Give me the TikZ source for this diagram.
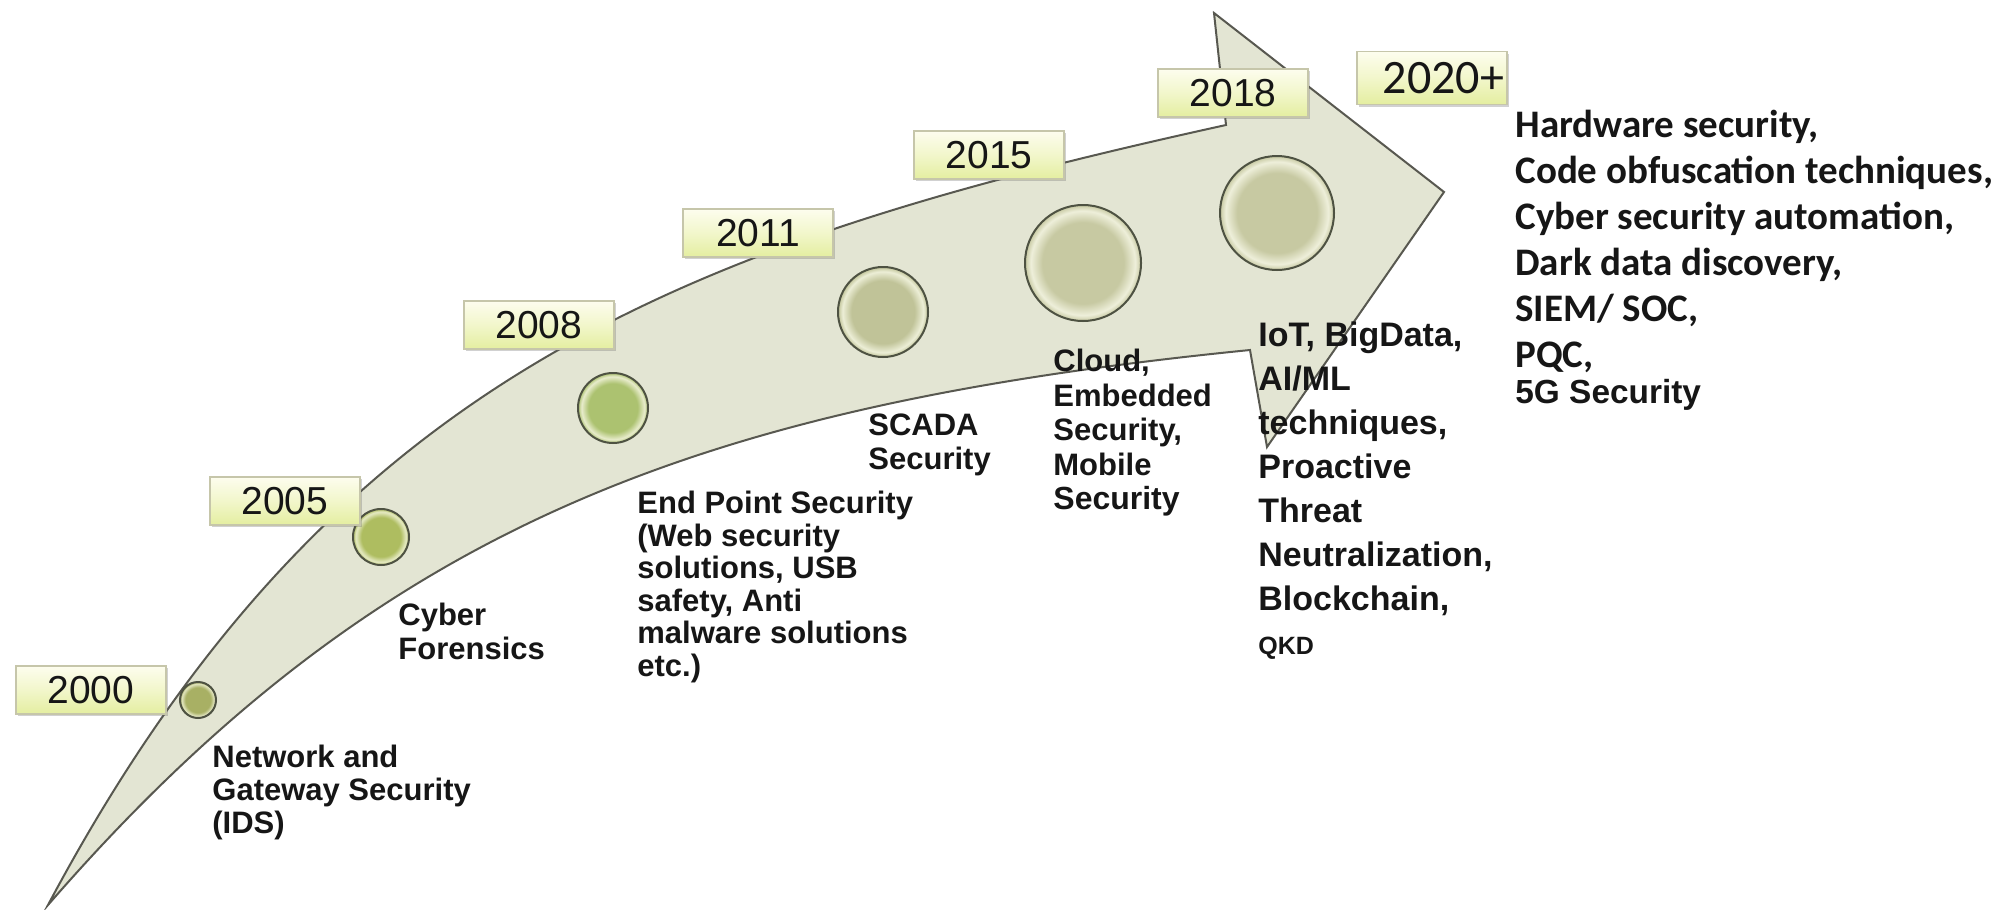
\documentclass[tikz,border=0pt]{standalone}
\usepackage{fontspec}
\setmainfont{Liberation Sans}
\newfontfamily\calibrifont{Carlito}
\usetikzlibrary{shadows}

\definecolor{arrowfill}{RGB}{227,229,211}
\definecolor{arrowline}{RGB}{88,88,80}
\definecolor{tagtop}{RGB}{253,253,238}
\definecolor{tagbot}{RGB}{228,238,160}
\definecolor{tagline}{RGB}{198,198,170}
\definecolor{bubline}{RGB}{78,82,66}
\definecolor{ink}{RGB}{22,22,22}
\definecolor{bubin}{RGB}{190,192,150}
\definecolor{bubring}{RGB}{236,238,214}

% bubble: flat fill with a pale ring just inside the rim
\pgfdeclareradialshading[bubin,bubring]{bubble}{\pgfpoint{0bp}{0bp}}{%
  color(0bp)=(bubin); color(17.5bp)=(bubin); color(22.5bp)=(bubring);
  color(25bp)=(bubin); color(50bp)=(bubin)}

\tikzset{
  arrowbody/.style={fill=arrowfill, draw=arrowline, line width=1pt, line join=miter},
  yeartag/.style={draw=tagline, line width=0.6pt,
    top color=tagtop, bottom color=tagbot, middle color=tagtop!55!tagbot,
    minimum width=75pt, minimum height=24pt, inner sep=0pt,
    font=\fontsize{19.5}{20}\selectfont, text=ink,
    drop shadow={shadow xshift=0.8pt, shadow yshift=-1.2pt, opacity=0.3, fill=black!60}},
  bubble/.style={circle, draw=bubline, line width=1pt, shading=bubble,
    minimum size=#1, inner sep=0pt},
  lab/.style={align=left, anchor=north west, inner sep=0pt, text=ink,
    font=\bfseries\fontsize{15.5}{17}\selectfont},
}

\begin{document}
\begin{tikzpicture}[x=0.5pt,y=-0.5pt]
\useasboundingbox (0,0) rectangle (2013,910);

% the curved arrow
\path[arrowbody] (48,905) .. controls (328,379) and (676,246) .. (1226,125)
  -- (1214,13) -- (1444,192) -- (1267,447) -- (1250,350)
  .. controls (700,405) and (378,525) .. (48,905) -- cycle;

% milestone bubbles, greener when small, greyer when large
\definecolor{bubin}{RGB}{168,176,100}\definecolor{bubring}{RGB}{226,229,192}
\node[bubble=18pt] (b2000) at (198,700) {};
\definecolor{bubin}{RGB}{174,189,96}\definecolor{bubring}{RGB}{230,234,196}
\node[bubble=28pt] (b2005) at (381,537) {};
\definecolor{bubin}{RGB}{172,194,112}\definecolor{bubring}{RGB}{232,236,204}
\node[bubble=35pt] (b2008) at (613,408) {};
\definecolor{bubin}{RGB}{192,195,152}\definecolor{bubring}{RGB}{236,238,214}
\node[bubble=45pt] (b2011) at (883,312) {};
\definecolor{bubin}{RGB}{199,201,162}\definecolor{bubring}{RGB}{238,239,218}
\node[bubble=58pt] (b2015) at (1083,263) {};
\node[bubble=57pt] (b2018) at (1277,213) {};

% year tags
\node[yeartag] (y2000) at (91,690) {2000};
\node[yeartag] (y2005) at (285,501) {2005};
\node[yeartag] (y2008) at (539,325) {2008};
\node[yeartag] (y2011) at (758,233) {2011};
\node[yeartag] (y2015) at (989,155) {2015};
\node[yeartag] (y2018) at (1233,93) {2018};
\node[yeartag, minimum height=26.5pt, text width=72pt, align=right,
      font=\calibrifont\fontsize{24}{24}\selectfont] (y2020) at (1432,78) {2020+};

% descriptions
\node[lab, font=\bfseries\fontsize{15.5}{16.5}\selectfont] (t2000) at (212,745)
  {Network and\\Gateway Security\\(IDS)};
\node[lab] (t2005) at (398,603) {Cyber\\Forensics};
\node[lab, font=\bfseries\fontsize{15.5}{16.25}\selectfont] (t2008) at (637,491)
  {End Point Security\\(Web security\\solutions, USB\\safety, Anti\\malware solutions\\etc.)};
\node[lab] (t2011) at (868,413) {SCADA\\Security};
\node[lab, font=\bfseries\fontsize{15.5}{17.25}\selectfont] (t2015) at (1053,349)
  {Cloud,\\Embedded\\Security,\\Mobile\\{\fontsize{16}{17.25}\selectfont Security}};
\node[lab, font=\bfseries\fontsize{17}{22}\selectfont] (t2018) at (1258,321)
  {IoT, BigData,\\AI/ML\\techniques,\\Proactive\\Threat\\Neutralization,\\Blockchain,\\{\fontsize{12.5}{22}\selectfont QKD}};
\node[lab, font=\calibrifont\bfseries\fontsize{19.5}{23}\selectfont] (t2020) at (1515,110)
  {Hardware security,\\Code obfuscation techniques,\\Cyber security automation,\\Dark data discovery,\\SIEM/ SOC,\\PQC,\\[-5pt]{\rmfamily\bfseries\fontsize{16.7}{18}\selectfont 5G Security}};
\end{tikzpicture}
\end{document}
